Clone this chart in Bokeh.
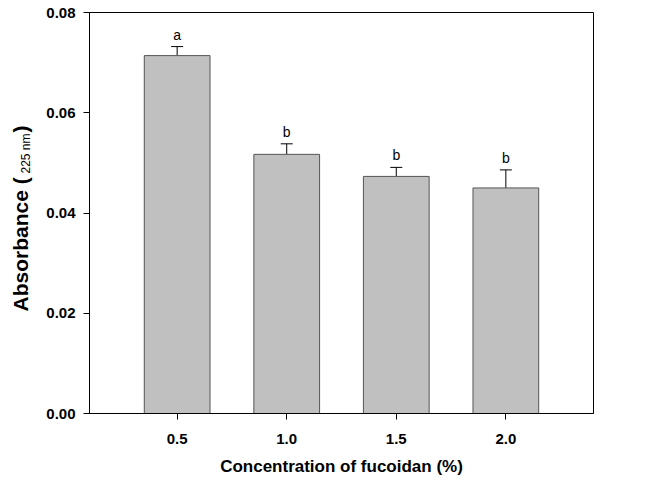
from math import pi
from bokeh.plotting import figure
from bokeh.layouts import row
from bokeh.core.properties import value
from bokeh.models import (ColumnDataSource, Range1d, FixedTicker, NumeralTickFormatter,
                          Whisker, TeeHead, Label, LabelSet)
from bokeh.embed import file_html
from bokeh.resources import INLINE

# data
concentration = [0.5, 1.0, 1.5, 2.0]
absorbance = [0.0714, 0.0517, 0.0473, 0.0450]
error = [0.0018, 0.0021, 0.0018, 0.0036]
letters = ["a", "b", "b", "b"]
y_ticks = [0.00, 0.02, 0.04, 0.06, 0.08]

upper = [a + e for a, e in zip(absorbance, error)]
src = ColumnDataSource(dict(x=concentration, top=absorbance, upper=upper, letter=letters))

H = 478
LW = 40
main = figure(width=643 - LW, height=H, output_backend="svg", toolbar_location=None,
              x_range=Range1d(0.1, 2.4), y_range=Range1d(0, 0.08),
              min_border_left=89 - LW, min_border_right=50, min_border_top=12,
              min_border_bottom=63)

main.vbar(x="x", top="top", width=0.3, source=src, fill_color="#c0c0c0",
          line_color="#555555", line_width=1)

w = Whisker(base="x", lower="top", upper="upper", source=src, dimension="height",
            line_color="black", line_width=1,
            upper_head=TeeHead(size=12, line_color="black", line_width=1), lower_head=None)
main.add_layout(w)

main.add_layout(LabelSet(x="x", y="upper", text="letter", source=src, text_align="center",
                         text_baseline="bottom", y_offset=4,
                         text_font=value("Liberation Sans"),
                         text_font_size=value("14px"), text_color=value("black")))

main.xgrid.visible = False
main.ygrid.visible = False
main.outline_line_color = "black"
main.outline_line_alpha = 1
main.background_fill_color = "white"
main.border_fill_color = "white"

for ax in (main.xaxis[0], main.yaxis[0]):
    ax.axis_line_color = "black"
    ax.major_tick_line_color = "black"
    ax.minor_tick_line_color = None
    ax.major_tick_in = 0
    ax.major_tick_out = 6
    ax.major_label_text_font = "Liberation Sans"
    ax.major_label_text_font_style = "bold"
    ax.major_label_text_font_size = "15px"
    ax.major_label_text_color = "black"

main.xaxis.ticker = FixedTicker(ticks=concentration)
main.xaxis.formatter = NumeralTickFormatter(format="0.0")
main.xaxis.major_label_standoff = 14
main.xaxis.axis_label = "Concentration of fucoidan (%)"
main.xaxis.axis_label_text_font = "Liberation Sans"
main.xaxis.axis_label_text_font_style = "bold"
main.xaxis.axis_label_text_font_size = "17px"
main.xaxis.axis_label_text_color = "black"
main.xaxis.axis_label_standoff = 10

main.yaxis.ticker = FixedTicker(ticks=y_ticks)
main.yaxis.formatter = NumeralTickFormatter(format="0.00")
main.yaxis.major_label_standoff = 8

# narrow panel carrying the y axis title with its subscript
lab = figure(width=LW, height=H, output_backend="svg", toolbar_location=None,
             x_range=Range1d(0, 1), y_range=Range1d(0, 1),
             x_axis_location=None, y_axis_location=None,
             min_border_left=0, min_border_right=0, min_border_top=0, min_border_bottom=0)
lab.grid.visible = False
lab.outline_line_color = None
lab.background_fill_color = "white"
lab.border_fill_color = "white"

common = dict(x_units="screen", y_units="screen", angle=pi / 2, text_align="left",
              text_baseline="alphabetic", text_font="Liberation Sans", text_color="black")
lab.add_layout(Label(x=20, y=102, text="Absorbance (", text_font_size="21px",
                     text_font_style="bold", **common))
lab.add_layout(Label(x=25, y=240, text="225 nm", text_font_size="12px", **common))
lab.add_layout(Label(x=20, y=281, text=")", text_font_size="21px",
                     text_font_style="bold", **common))

p = row(lab, main, spacing=0)

open("out.html", "w").write(file_html(p, INLINE))
